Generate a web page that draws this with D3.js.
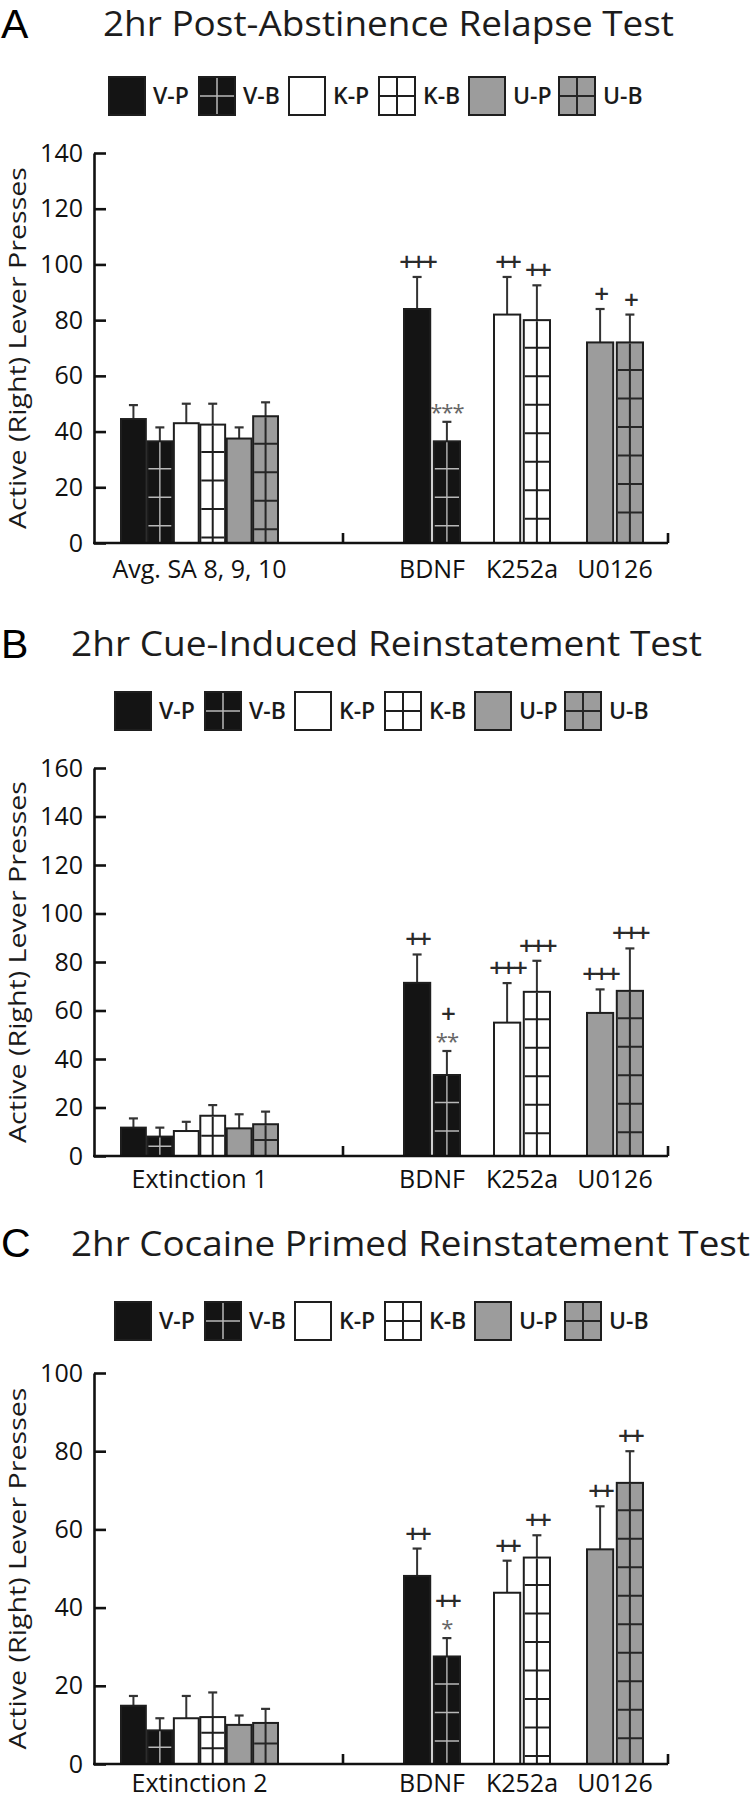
<!DOCTYPE html>
<html>
<head>
<meta charset="utf-8">
<script src="https://cdn.jsdelivr.net/npm/d3@7"></script>
<style>
  html, body { margin: 0; padding: 0; background: #fff; }
  svg { display: block; }
</style>
</head>
<body>
<div id="chart"></div>
<script>
// series and groups (same for all three panels)
var series = ["V-P", "V-B", "K-P", "K-B", "U-P", "U-B"];
var drugGroups = ["BDNF", "K252a", "U0126"];
var seriesDrug = ["BDNF", "BDNF", "K252a", "K252a", "U0126", "U0126"];

// panel A
var titleA = "2hr Post-Abstinence Relapse Test";
var baseLabelA = "Avg. SA 8, 9, 10";
var baseMeanA = [44.5, 36.5, 43, 42.5, 37.5, 45.5];
var baseSemA = [5, 5, 7, 7.5, 4, 5];
var drugMeanA = [84, 36.5, 82, 80, 72, 72];
var drugSemA = [11.5, 7, 13.5, 12.5, 12, 10];
var marksA = ["+++", "***", "++", "++", "+", "+"];
var ticksA = [0, 20, 40, 60, 80, 100, 120, 140];

// panel B
var titleB = "2hr Cue-Induced Reinstatement Test";
var baseLabelB = "Extinction 1";
var baseMeanB = [11.7, 8, 10.3, 16.6, 11.4, 13.1];
var baseSemB = [3.8, 3.7, 3.8, 4.4, 5.8, 5.2];
var drugMeanB = [71.4, 33.4, 55, 67.7, 59, 68.1];
var drugSemB = [11.7, 9.9, 16.3, 12.8, 9.7, 17.5];
var marksB = ["++", "+|**", "+++", "+++", "+++", "+++"];
var ticksB = [0, 20, 40, 60, 80, 100, 120, 140, 160];

// panel C
var titleC = "2hr Cocaine Primed Reinstatement Test";
var baseLabelC = "Extinction 2";
var baseMeanC = [14.9, 8.6, 11.7, 12, 10, 10.5];
var baseSemC = [2.5, 3.1, 5.7, 6.3, 2.4, 3.6];
var drugMeanC = [48.1, 27.5, 43.8, 52.8, 54.9, 71.9];
var drugSemC = [7, 4.7, 8.2, 5.7, 11, 8.1];
var marksC = ["++", "++|*", "++", "++", "++", "++"];
var ticksC = [0, 20, 40, 60, 80, 100];

var FONT = "'Open Sans', 'Noto Sans', sans-serif";
var axisX = 94, axisEnd = 668, splitX = 343;

var svg = d3.select("#chart").append("svg")
    .attr("width", 754)
    .attr("height", 1800);

function drugOf(s) { return s.charAt(0); }
function isB(s) { return s.charAt(2) === "B"; }
function fillOf(s) { return {V: "#141414", K: "#ffffff", U: "#9c9c9c"}[drugOf(s)]; }
function gridColor(s) { return {V: "#b8b8b8", K: "#1e1e1e", U: "#262626"}[drugOf(s)]; }

// where the horizontal lines of the "B" grid fill go, measured from the bar top
function gridRows(h) {
  var rows = [];
  if (h < 60) {
    var n = Math.max(2, Math.round(h / 17));
    for (var k = 1; k < n; k++) rows.push(h * k / n);
  } else {
    for (var d = 27.5; d < h - 5; d += 28.5) rows.push(d);
  }
  return rows;
}

function drawLegend(g, x0, y0) {
  var lx = d3.scaleBand().domain(series).range([x0, x0 + 540]);
  var item = g.append("g").selectAll("g")
      .data(series)
      .enter().append("g")
      .attr("transform", function(d) { return "translate(" + lx(d) + "," + y0 + ")"; });

  item.append("rect")
      .attr("width", 36)
      .attr("height", 38)
      .attr("fill", fillOf)
      .attr("stroke", "#1e1e1e")
      .attr("stroke-width", 2);

  item.filter(isB).append("path")
      .attr("d", "M18,1V37M1,19H35")
      .attr("fill", "none")
      .attr("stroke", gridColor)
      .attr("stroke-width", function(d) { return drugOf(d) === "V" ? 1.5 : 2; });

  item.append("text")
      .attr("x", 44)
      .attr("y", 19)
      .attr("dy", "0.36em")
      .attr("font-family", FONT)
      .attr("font-size", 23)
      .attr("font-weight", 600)
      .attr("fill", "#1a1a1a")
      .text(String);
}

function drawPanel(p) {
  var g = svg.append("g");
  var y = d3.scaleLinear().domain([0, d3.max(p.ticks)]).range([p.yZero, p.yTop]);

  // panel letter + title
  g.append("text")
      .attr("x", 1)
      .attr("y", p.letterY)
      .attr("font-family", "'Liberation Sans', Arial, sans-serif")
      .attr("font-size", 41)
      .attr("fill", "#000")
      .text(p.letter);

  g.append("text")
      .attr("x", p.titleX)
      .attr("y", p.titleY)
      .attr("textLength", p.titleW)
      .attr("lengthAdjust", "spacingAndGlyphs")
      .attr("font-family", FONT)
      .attr("font-size", 34)
      .attr("font-weight", 500)
      .attr("fill", "#1c1c1c")
      .text(p.title);

  drawLegend(g, p.legendX, p.legendY);

  // x positions: six bars for the baseline day, a pair of bars per drug
  var xBase = d3.scaleBand().domain(series).range([121, 278]).paddingInner(0.06);
  var xDrug = d3.scaleOrdinal().domain(drugGroups).range([404, 494, 587]);
  var xPair = d3.scaleBand().domain(["P", "B"]).range([0, 56]).paddingInner(0.12);

  var bars = [];
  series.forEach(function(s, i) {
    bars.push({s: s, mean: p.baseMean[i], sem: p.baseSem[i], x: xBase(s), w: xBase.bandwidth(), mark: ""});
    bars.push({s: s, mean: p.drugMean[i], sem: p.drugSem[i],
               x: xDrug(seriesDrug[i]) + xPair(s.charAt(2)), w: xPair.bandwidth(), mark: p.marks[i]});
  });

  // error bars (upward only)
  var err = g.append("g").selectAll("g").data(bars).enter().append("g");
  err.append("line")
      .attr("x1", function(d) { return d.x + d.w / 2; })
      .attr("x2", function(d) { return d.x + d.w / 2; })
      .attr("y1", function(d) { return y(d.mean); })
      .attr("y2", function(d) { return y(d.mean + d.sem); })
      .attr("stroke", "#333")
      .attr("stroke-width", 2);
  err.append("line")
      .attr("x1", function(d) { return d.x + d.w / 2 - 4.5; })
      .attr("x2", function(d) { return d.x + d.w / 2 + 4.5; })
      .attr("y1", function(d) { return y(d.mean + d.sem); })
      .attr("y2", function(d) { return y(d.mean + d.sem); })
      .attr("stroke", "#333")
      .attr("stroke-width", 2.2);

  // bars
  var bar = g.append("g").selectAll("g").data(bars).enter().append("g");
  bar.append("rect")
      .attr("x", function(d) { return d.x; })
      .attr("y", function(d) { return y(d.mean); })
      .attr("width", function(d) { return d.w; })
      .attr("height", function(d) { return y(0) - y(d.mean); })
      .attr("fill", function(d) { return fillOf(d.s); })
      .attr("stroke", "#1e1e1e")
      .attr("stroke-width", 2);

  var gridBars = bar.filter(function(d) { return isB(d.s); });
  gridBars.append("path")
      .attr("fill", "none")
      .attr("stroke", function(d) { return gridColor(d.s); })
      .attr("stroke-width", function(d) { return drugOf(d.s) === "V" ? 1.4 : 2; })
      .attr("d", function(d) {
        var top = y(d.mean), bottom = y(0), cx = d.x + d.w / 2;
        var path = "M" + cx + "," + (top + 1) + "V" + (bottom - 1);
        gridRows(bottom - top).forEach(function(r) {
          path += "M" + (d.x + 1) + "," + (top + r) + "H" + (d.x + d.w - 1);
        });
        return path;
      });

  // significance marks above the error bars, one text per bar (stacked lines as tspans)
  bars.filter(function(d) { return d.mark; }).forEach(function(d) {
    var lines = d.mark.split("|").reverse();
    var cx = d.x + d.w / 2;
    var t = g.append("text")
        .attr("text-anchor", "middle")
        .attr("font-family", FONT);
    lines.forEach(function(txt, k) {
      var cy = y(d.mean + d.sem) - 15 - k * 22;
      var star = txt.charAt(0) === "*";
      t.append("tspan")
          .attr("x", cx)
          .attr("y", star ? cy + 13 : cy + 9)
          .attr("font-size", star ? 22 : 26)
          .attr("font-weight", star ? 400 : 600)
          .attr("letter-spacing", star ? -1 : -3)
          .attr("fill", star ? "#666" : "#2a2a2a")
          .text(txt);
    });
  });

  // y axis, ticks pointing inward
  var ya = g.append("g")
      .attr("transform", "translate(" + axisX + ",0)")
      .call(d3.axisLeft(y).tickValues(p.ticks).tickSizeInner(-12).tickSizeOuter(0).tickPadding(11));
  ya.select(".domain").attr("stroke", "#111").attr("stroke-width", 2.6);
  ya.selectAll(".tick line").attr("stroke", "#111").attr("stroke-width", 2.6);
  ya.selectAll(".tick text")
      .attr("font-family", FONT)
      .attr("font-size", 25)
      .attr("font-weight", 500)
      .attr("fill", "#111");

  g.append("text")
      .attr("transform", "rotate(-90)")
      .attr("x", -(p.yTop + p.yZero) / 2)
      .attr("y", 26)
      .attr("text-anchor", "middle")
      .attr("textLength", 362)
      .attr("lengthAdjust", "spacingAndGlyphs")
      .attr("font-family", FONT)
      .attr("font-size", 24)
      .attr("font-weight", 500)
      .attr("fill", "#1a1a1a")
      .text("Active (Right) Lever Presses");

  // x axis line with the two inward section ticks
  var xa = g.append("g").attr("stroke", "#111").attr("stroke-width", 2.6).attr("fill", "none");
  xa.append("path").attr("d", d3.line()([[axisX - 1, y(0)], [axisEnd, y(0)]]));
  xa.selectAll(".sec").data([splitX, axisEnd]).enter().append("path")
      .attr("d", function(d) { return d3.line()([[d, y(0)], [d, y(0) - 10]]); });

  // category labels
  var labels = [{t: p.baseLabel, x: (xBase.range()[0] + xBase.range()[1]) / 2}];
  drugGroups.forEach(function(dg) { labels.push({t: dg, x: xDrug(dg) + 28}); });
  g.append("g").selectAll("text").data(labels).enter().append("text")
      .attr("x", function(d) { return d.x; })
      .attr("y", y(0) + p.labelDy)
      .attr("text-anchor", "middle")
      .attr("font-family", FONT)
      .attr("font-size", 25)
      .attr("font-weight", 500)
      .attr("fill", "#111")
      .text(function(d) { return d.t; });
}

drawPanel({letter: "A", title: titleA, baseLabel: baseLabelA,
  baseMean: baseMeanA, baseSem: baseSemA, drugMean: drugMeanA, drugSem: drugSemA, marks: marksA, ticks: ticksA,
  letterY: 38, titleX: 103, titleW: 571, titleY: 36, legendX: 109, legendY: 77,
  yTop: 153, yZero: 543, labelDy: 35});

drawPanel({letter: "B", title: titleB, baseLabel: baseLabelB,
  baseMean: baseMeanB, baseSem: baseSemB, drugMean: drugMeanB, drugSem: drugSemB, marks: marksB, ticks: ticksB,
  letterY: 658, titleX: 71, titleW: 631, titleY: 656, legendX: 115, legendY: 692,
  yTop: 768, yZero: 1156, labelDy: 32});

drawPanel({letter: "C", title: titleC, baseLabel: baseLabelC,
  baseMean: baseMeanC, baseSem: baseSemC, drugMean: drugMeanC, drugSem: drugSemC, marks: marksC, ticks: ticksC,
  letterY: 1257, titleX: 71, titleW: 679, titleY: 1256, legendX: 115, legendY: 1302,
  yTop: 1373, yZero: 1764, labelDy: 28});
</script>
</body>
</html>
